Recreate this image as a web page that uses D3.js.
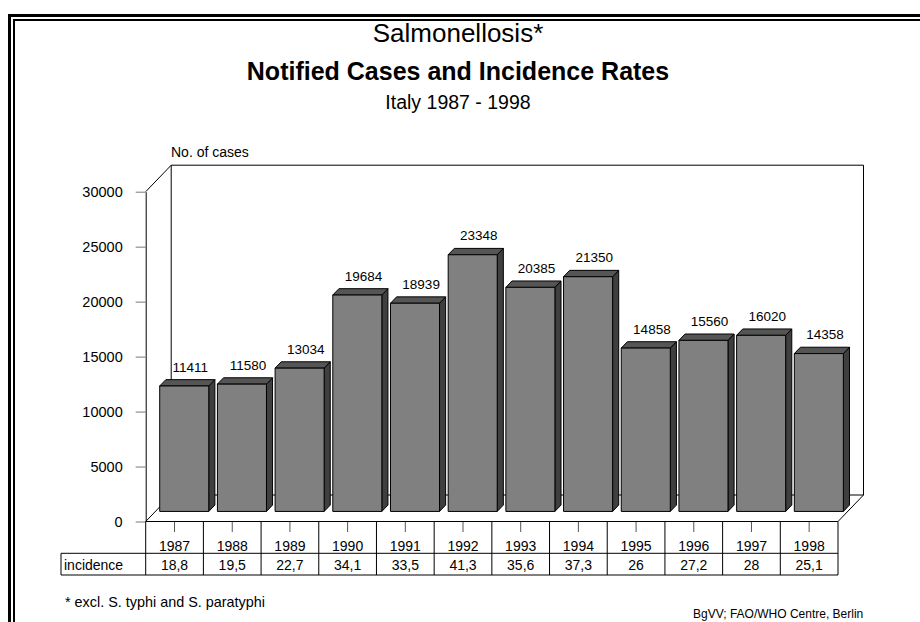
<!DOCTYPE html>
<html>
<head>
<meta charset="utf-8">
<script src="https://cdn.jsdelivr.net/npm/d3@7"></script>
<style>
  html, body { margin: 0; padding: 0; background: #fff; }
  svg { display: block; font-family: Arial, 'Liberation Sans', sans-serif; }
</style>
</head>
<body>
<svg id="chart" width="920" height="622"></svg>
<script>
// chart data
const years = ['1987', '1988', '1989', '1990', '1991', '1992', '1993', '1994', '1995', '1996', '1997', '1998'];
const cases = [11411, 11580, 13034, 19684, 18939, 23348, 20385, 21350, 14858, 15560, 16020, 14358];
const incidence = ['18,8', '19,5', '22,7', '34,1', '33,5', '41,3', '35,6', '37,3', '26', '27,2', '28', '25,1'];
const yTicks = [0, 5000, 10000, 15000, 20000, 25000, 30000];

const svg = d3.select('#chart');

// 3d depth offsets for the floor / back wall
const DX = 25.5;
const DY = 26.5;
const zFront = 0.38;
const zBack = 0.62;

const left = 145.7, right = 838;
const x = d3.scaleBand().domain(years).range([left, right]).padding(0);
const y = d3.scaleLinear().domain([0, 30000]).range([521.5, 191.7]);

const proj = (px, v, z) => [px + z * DX, y(v) - z * DY];

// frame (only top and left edges show)
svg.append('line').attr('x1', 9.5).attr('y1', 14).attr('x2', 9.5).attr('y2', 622)
  .attr('stroke', '#000').attr('stroke-width', 3);
svg.append('line').attr('x1', 8).attr('y1', 15.5).attr('x2', 920).attr('y2', 15.5)
  .attr('stroke', '#000').attr('stroke-width', 3);
svg.append('line').attr('x1', 14).attr('y1', 19).attr('x2', 14).attr('y2', 622)
  .attr('stroke', '#000').attr('stroke-width', 2);
svg.append('line').attr('x1', 13).attr('y1', 20).attr('x2', 920).attr('y2', 20)
  .attr('stroke', '#000').attr('stroke-width', 2);

// titles
const cx = 458;
svg.append('text').attr('x', cx).attr('y', 42).attr('text-anchor', 'middle')
  .style('font-size', '26px').text('Salmonellosis*');
svg.append('text').attr('x', cx).attr('y', 80).attr('text-anchor', 'middle')
  .style('font-size', '25px').style('font-weight', 'bold').text('Notified Cases and Incidence Rates');
svg.append('text').attr('x', cx).attr('y', 109).attr('text-anchor', 'middle')
  .style('font-size', '19.5px').text('Italy 1987 - 1998');

svg.append('text').attr('x', 171).attr('y', 157)
  .style('font-size', '14px').text('No. of cases');

// back wall and floor
const walls = svg.append('g').attr('fill', 'none').attr('stroke', '#000').attr('stroke-width', 1);
const line = d3.line();
const wallTopL = proj(left, 30000, 1), wallTopR = proj(right, 30000, 1);
const floorBL = proj(left, 0, 1), floorBR = proj(right, 0, 1);
walls.append('path').attr('d', line([proj(left, 30000, 0), wallTopL, wallTopR, floorBR]));
walls.append('path').attr('d', line([wallTopL, floorBL, floorBR]));
walls.append('path').attr('d', line([proj(left, 0, 0), floorBL]));
walls.append('path').attr('d', line([proj(right, 0, 0), floorBR]));

// bars
const bw = x.bandwidth() * 0.85;
const bars = svg.append('g').attr('stroke', '#000').attr('stroke-width', 1).attr('stroke-linejoin', 'round');
years.forEach((yr, i) => {
  const v = cases[i];
  const x0 = x(yr) + (x.bandwidth() - bw) / 2;
  const x1 = x0 + bw;
  const f00 = proj(x0, 0, zFront), f10 = proj(x1, 0, zFront);
  const f0v = proj(x0, v, zFront), f1v = proj(x1, v, zFront);
  const b0v = proj(x0, v, zBack), b1v = proj(x1, v, zBack), b10 = proj(x1, 0, zBack);
  bars.append('path').attr('fill', '#3f3f3f').attr('d', line([f10, f1v, b1v, b10]) + 'Z');
  bars.append('path').attr('fill', '#555555').attr('d', line([f0v, f1v, b1v, b0v]) + 'Z');
  bars.append('path').attr('fill', '#808080').attr('d', line([f00, f10, f1v, f0v]) + 'Z');
});

// value labels
svg.append('g').selectAll('text').data(years).join('text')
  .attr('x', d => x(d) + x.bandwidth() / 2 + zBack * DX)
  .attr('y', (d, i) => y(cases[i]) - zBack * DY - 8)
  .attr('text-anchor', 'middle')
  .style('font-size', '13.5px')
  .text((d, i) => cases[i]);

// y axis
const yAxis = svg.append('g').attr('transform', `translate(${left},0)`)
  .call(d3.axisLeft(y).tickValues(yTicks).tickSize(10).tickSizeOuter(0).tickPadding(13).tickFormat(d3.format('d')));
yAxis.select('.domain').attr('stroke', '#000');
yAxis.selectAll('.tick line').attr('stroke', '#777');
yAxis.selectAll('.tick text').style('font-size', '14.5px').attr('font-family', null).attr('fill', '#000');

// x axis (years) with table underneath
const xAxis = svg.append('g').attr('transform', `translate(0,${y(0)})`)
  .call(d3.axisBottom(x).tickSize(10.5).tickSizeOuter(0).tickPadding(9));
xAxis.select('.domain').remove();
xAxis.selectAll('.tick line').attr('stroke', '#555');
xAxis.selectAll('.tick text').style('font-size', '14px').attr('font-family', null).attr('fill', '#000');

const rowMid = 553.3, rowBot = 575, labLeft = 61;
const table = svg.append('g').attr('stroke', '#000').attr('stroke-width', 1).attr('fill', 'none');
table.append('path').attr('d', line([[left, y(0)], [right, y(0)]]));
table.append('path').attr('d', line([[labLeft, rowMid], [right, rowMid]]));
table.append('path').attr('d', line([[labLeft, rowBot], [right, rowBot]]));
table.append('path').attr('d', line([[labLeft, rowMid], [labLeft, rowBot]]));
years.concat([null]).forEach((yr) => {
  const xx = yr === null ? right : x(yr);
  table.append('path').attr('d', line([[xx, y(0)], [xx, rowBot]]));
});

svg.append('text').attr('x', 64).attr('y', 570).style('font-size', '14px').text('incidence');
svg.append('g').selectAll('text').data(years).join('text')
  .attr('x', d => x(d) + x.bandwidth() / 2)
  .attr('y', 570)
  .attr('text-anchor', 'middle')
  .style('font-size', '14px')
  .text((d, i) => incidence[i]);

// footnotes
svg.append('text').attr('x', 65).attr('y', 607).style('font-size', '14.4px').text('* excl. S. typhi and S. paratyphi');
svg.append('text').attr('x', 693).attr('y', 618).style('font-size', '12px').text('BgVV; FAO/WHO Centre, Berlin');
</script>
</body>
</html>
